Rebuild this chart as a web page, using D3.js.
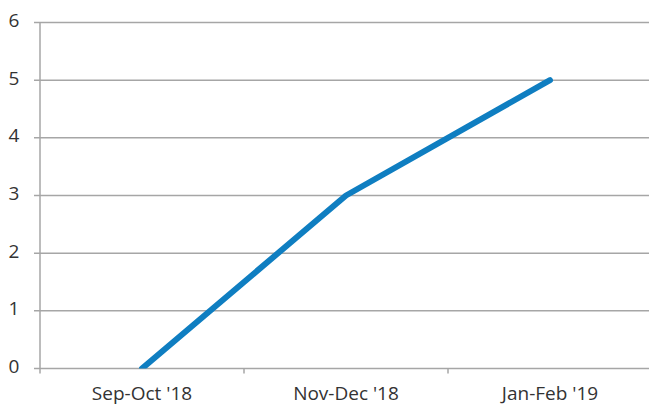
<!DOCTYPE html>
<html>
<head>
  <meta charset="UTF-8">
  <title>Line Chart</title>
  <script src="https://d3js.org/d3.v7.min.js"></script>
  <style>
    body {
      margin: 0;
      background: #fff;
      font-family: "Open Sans", Arial, sans-serif;
    }
    .grid line {
      stroke: #a6a6a6;
      stroke-width: 1.5;
    }
    .axis text {
      fill: #333;
      font-size: 19px;
    }
  </style>
</head>
<body>
  <div id="chart"></div>
  <script>
    const categories = ["Sep-Oct '18", "Nov-Dec '18", "Jan-Feb '19"];
    const values = [0, 3, 5];
    const yTicks = [0, 1, 2, 3, 4, 5, 6];

    const width = 649, height = 409;
    const margin = { top: 22.5, right: -3, bottom: 40.5, left: 40 };
    const innerW = width - margin.left - margin.right;
    const innerH = height - margin.top - margin.bottom;

    const svg = d3.select("#chart")
      .append("svg")
      .attr("width", width)
      .attr("height", height);

    const g = svg.append("g")
      .attr("transform", `translate(${margin.left}, ${margin.top})`);

    svg.append("clipPath")
      .attr("id", "plot-clip")
      .append("rect")
      .attr("x", -10)
      .attr("y", -10)
      .attr("width", innerW + 20)
      .attr("height", innerH + 10);

    const xScale = d3.scaleBand()
      .domain(categories)
      .range([0, innerW]);

    const yScale = d3.scaleLinear()
      .domain([0, 6])
      .range([innerH, 0]);

    // horizontal gridlines
    g.append("g")
      .attr("class", "grid")
      .selectAll("line")
      .data(yTicks)
      .enter()
      .append("line")
      .attr("x1", -6)
      .attr("x2", innerW)
      .attr("y1", d => yScale(d))
      .attr("y2", d => yScale(d));

    // y axis line
    g.append("line")
      .attr("x1", 0).attr("x2", 0)
      .attr("y1", 0).attr("y2", innerH)
      .attr("stroke", "#a6a6a6")
      .attr("stroke-width", 1.5);

    // x category ticks
    g.append("g")
      .selectAll("line")
      .data(categories.concat([null]))
      .enter()
      .append("line")
      .attr("x1", (d, i) => i * xScale.bandwidth())
      .attr("x2", (d, i) => i * xScale.bandwidth())
      .attr("y1", innerH)
      .attr("y2", innerH + 5)
      .attr("stroke", "#a6a6a6")
      .attr("stroke-width", 1.5);

    // y labels
    g.append("g")
      .attr("class", "axis")
      .selectAll("text")
      .data(yTicks)
      .enter()
      .append("text")
      .attr("x", -26)
      .attr("y", d => yScale(d) - 2)
      .attr("dy", "0.35em")
      .attr("text-anchor", "middle")
      .text(d => d);

    // x labels
    g.append("g")
      .attr("class", "axis")
      .selectAll("text")
      .data(categories)
      .enter()
      .append("text")
      .attr("x", d => xScale(d) + xScale.bandwidth() / 2)
      .attr("y", innerH + 25)
      .attr("dy", "0.35em")
      .attr("text-anchor", "middle")
      .text(d => d);

    const line = d3.line()
      .x((d, i) => xScale(categories[i]) + xScale.bandwidth() / 2)
      .y(d => yScale(d));

    g.append("g")
      .attr("clip-path", "url(#plot-clip)")
      .append("path")
      .datum(values)
      .attr("fill", "none")
      .attr("stroke", "#0f7ec1")
      .attr("stroke-width", 6)
      .attr("stroke-linejoin", "round")
      .attr("stroke-linecap", "round")
      .attr("d", line);
  </script>
</body>
</html>
